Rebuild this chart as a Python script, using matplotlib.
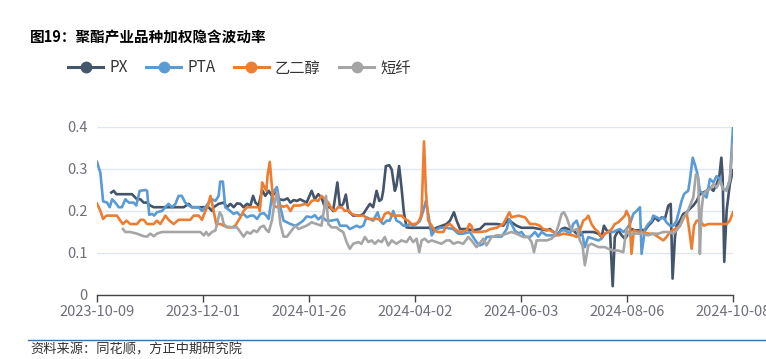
import matplotlib
matplotlib.use("Agg")
import matplotlib.pyplot as plt
from matplotlib.lines import Line2D

plt.rcParams['font.family'] = ['Noto Sans CJK SC', 'DejaVu Sans']

title = "图19：聚酯产业品种加权隐含波动率"
source = "资料来源：同花顺，方正中期研究院"
series_names = ["PX", "PTA", "乙二醇", "短纤"]
tick_labels = ["2023-10-09", "2023-12-01", "2024-01-26", "2024-04-02",
               "2024-06-03", "2024-08-06", "2024-10-08"]
tick_pos = [0, 40, 80, 120, 160, 200, 240]
yticks = [0, 0.1, 0.2, 0.3, 0.4]

# trading-day index (category position) and value for each series
px_x = [5.4, 6.3, 7.3, 10.7, 13.2, 15.1, 16.4, 17.6, 18.9, 20.1, 21.4, 25.2, 32.7, 34.6, 35.8, 39, 42.1, 43.4, 44,
        45.9, 47.8, 49.1, 50.3, 51.6, 52.8, 54.1, 55.3, 56.6, 57.9, 58.9, 59.8, 61, 62.3, 63.5, 64.8, 66, 67.3, 68.6,
        70.4, 71.9, 73, 74.2, 75.5, 76.6, 79.1, 81, 82.2, 83.5, 84.7, 86, 87.9, 89.1, 90.7, 91.7, 92.9, 93.9, 94.8,
        96.7, 99.2, 100.5, 101.7, 103, 104.2, 105.5, 106.5, 107.4, 108, 109, 110.3, 111.2, 112.4, 113, 114, 114.9,
        115.8, 116.8, 118.1, 120.6, 123.1, 125.6, 126.3, 128.1, 131.9, 133.2, 134.7, 135.7, 137, 139.5, 142, 144.5,
        146.4, 148.3, 150.8, 152, 153.3, 155.2, 156.5, 158.3, 160.2, 162.1, 164.6, 167.1, 169.7, 170.9, 172.2, 174.1,
        175.3, 176.6, 177.8, 179.7, 181, 182.2, 183.5, 185.4, 187.3, 189.2, 190.4, 191.3, 192.3, 193.6, 194.6, 195.4,
        196.7, 198, 199.2, 200.5, 201.7, 203, 204.3, 205.5, 206.8, 208, 209.3, 210.5, 211.8, 213.1, 214.3, 215.6,
        216.5, 217.2, 218.1, 218.7, 220, 221.2, 222.5, 223.7, 225, 226.3, 227.5, 228.8, 230, 231.3, 232.6, 233.8,
        234.8, 235.6, 236.1, 236.7, 237.6, 238.8, 240]
px_v = [0.244, 0.248, 0.24, 0.24, 0.24, 0.228, 0.228, 0.22, 0.22, 0.213, 0.209, 0.209, 0.209, 0.217, 0.209, 0.209,
        0.209, 0.2, 0.209, 0.217, 0.22, 0.209, 0.217, 0.209, 0.218, 0.217, 0.209, 0.217, 0.213, 0.236, 0.22, 0.213,
        0.25, 0.236, 0.248, 0.236, 0.244, 0.228, 0.226, 0.23, 0.22, 0.226, 0.224, 0.228, 0.22, 0.248, 0.228, 0.24,
        0.232, 0.209, 0.209, 0.2, 0.268, 0.209, 0.217, 0.239, 0.2, 0.189, 0.189, 0.193, 0.205, 0.217, 0.209, 0.248,
        0.224, 0.228, 0.248, 0.307, 0.309, 0.299, 0.248, 0.26, 0.307, 0.256, 0.197, 0.161, 0.16, 0.16, 0.16, 0.16,
        0.154, 0.16, 0.169, 0.177, 0.197, 0.177, 0.157, 0.157, 0.154, 0.157, 0.169, 0.169, 0.169, 0.168, 0.165, 0.181,
        0.173, 0.165, 0.16, 0.16, 0.16, 0.157, 0.154, 0.157, 0.15, 0.146, 0.157, 0.16, 0.157, 0.154, 0.146, 0.142,
        0.15, 0.15, 0.15, 0.146, 0.138, 0.165, 0.154, 0.15, 0.021, 0.138, 0.154, 0.142, 0.134, 0.146, 0.157, 0.154,
        0.154, 0.155, 0.154, 0.165, 0.173, 0.185, 0.177, 0.185, 0.181, 0.213, 0.217, 0.039, 0.138, 0.165, 0.177,
        0.193, 0.197, 0.205, 0.213, 0.224, 0.24, 0.244, 0.248, 0.256, 0.248, 0.264, 0.28, 0.327, 0.28, 0.079, 0.201,
        0.264, 0.297]

pta_x = [0, 1.3, 2.3, 3.8, 4.8, 5.7, 6.9, 8.2, 9.4, 10.7, 12, 13.8, 14.8, 16.1, 18.2, 18.9, 19.7, 20.8, 21.6, 22.6,
         24.5, 25.8, 27, 28.3, 29.6, 30.8, 32, 33.3, 34.6, 35.8, 38.4, 39.6, 40.9, 42.1, 43.4, 44.7, 45.9, 46.5, 47.5,
         48.4, 50.3, 51.6, 52.8, 54.1, 55.3, 56.6, 57.9, 59.1, 60.4, 61.6, 62.9, 63.9, 64.8, 66, 66.9, 67.9, 69.2,
         70.4, 71.7, 73, 74.8, 76.1, 77.8, 79.1, 81, 82.2, 83.5, 84.7, 86.6, 88.5, 90.7, 91.7, 94.2, 95.4, 96.7, 98,
         99.2, 100.5, 101.7, 103, 104.2, 105.9, 106.8, 108, 109.3, 110.5, 111.8, 113, 114.3, 115.6, 116.8, 118.1,
         119.3, 120.6, 121.9, 123.1, 124.1, 125, 126.3, 127.5, 129.4, 131.9, 134.4, 136.3, 138.2, 140.7, 143.2, 144.5,
         145.8, 147, 148.9, 150.8, 152.7, 154.6, 155.6, 156.4, 157.7, 159, 160.2, 161.5, 163.4, 165.3, 166.5, 167.8,
         169.7, 171.5, 173.4, 175.3, 176.6, 178.5, 179.7, 181, 182.2, 183.2, 184.1, 185.4, 187.3, 189.2, 190.4, 191.7,
         192.9, 194.8, 196.1, 197.3, 198.6, 199.8, 201.1, 202.4, 203.6, 204.9, 205.5, 206.8, 208, 209.3, 209.9, 211.2,
         212.4, 213.7, 214.9, 216.2, 217.5, 218.7, 220, 220.6, 221.5, 222.2, 223.1, 223.7, 224.8, 225.6, 226.5, 227.5,
         228.8, 230, 231.3, 232.6, 233.8, 235.1, 236.3, 237.6, 238.8, 240]
pta_v = [0.317, 0.29, 0.223, 0.22, 0.209, 0.228, 0.22, 0.209, 0.209, 0.228, 0.22, 0.22, 0.213, 0.248, 0.25, 0.248,
         0.191, 0.193, 0.189, 0.197, 0.2, 0.209, 0.217, 0.209, 0.217, 0.236, 0.236, 0.22, 0.213, 0.209, 0.209, 0.2,
         0.209, 0.22, 0.228, 0.224, 0.236, 0.27, 0.27, 0.209, 0.2, 0.193, 0.197, 0.189, 0.193, 0.185, 0.189, 0.189,
         0.181, 0.193, 0.195, 0.189, 0.181, 0.236, 0.248, 0.257, 0.209, 0.177, 0.173, 0.169, 0.165, 0.169, 0.177,
         0.187, 0.185, 0.19, 0.18, 0.187, 0.177, 0.177, 0.18, 0.165, 0.165, 0.157, 0.161, 0.165, 0.161, 0.165, 0.185,
         0.181, 0.177, 0.197, 0.177, 0.169, 0.177, 0.177, 0.2, 0.177, 0.173, 0.165, 0.165, 0.169, 0.165, 0.169, 0.177,
         0.2, 0.224, 0.193, 0.142, 0.154, 0.16, 0.16, 0.157, 0.146, 0.146, 0.15, 0.126, 0.118, 0.122, 0.138, 0.139,
         0.139, 0.139, 0.157, 0.181, 0.169, 0.153, 0.147, 0.15, 0.139, 0.138, 0.15, 0.139, 0.15, 0.142, 0.142, 0.142,
         0.154, 0.154, 0.146, 0.169, 0.177, 0.154, 0.142, 0.114, 0.138, 0.134, 0.13, 0.134, 0.146, 0.15, 0.15, 0.154,
         0.157, 0.15, 0.157, 0.169, 0.193, 0.2, 0.209, 0.098, 0.157, 0.169, 0.177, 0.189, 0.185, 0.181, 0.185, 0.173,
         0.165, 0.165, 0.177, 0.209, 0.224, 0.24, 0.244, 0.248, 0.272, 0.327, 0.311, 0.291, 0.248, 0.24, 0.232, 0.276,
         0.268, 0.283, 0.276, 0.252, 0.252, 0.272, 0.4]

meg_x = [0, 1.3, 2.3, 3.5, 5.7, 7.5, 8.8, 9.8, 11.1, 12.6, 15.1, 16.4, 17.6, 18.9, 21.4, 22.6, 23.9, 25.8, 27, 28.9,
         30.8, 35.2, 36.5, 38.4, 39.6, 40.9, 41.9, 42.8, 43.4, 44, 45, 46.5, 47.8, 49.1, 51, 52.2, 54.1, 55.3, 56.6,
         59.1, 61, 61.4, 61.9, 62.3, 62.9, 63.9, 64.4, 65.2, 65.8, 66.7, 67.9, 69.2, 70.4, 71.7, 73, 74.2, 75.5, 76.6,
         78.5, 79.7, 81, 82.2, 83.5, 84.7, 86, 87.3, 88.5, 89.8, 91, 92.3, 93.5, 94.8, 96.1, 98, 100.5, 102.4, 106.1,
         107.4, 108.6, 109.9, 111.2, 114.9, 116.2, 117.4, 118.7, 120, 121.2, 122.1, 122.5, 123.4, 124.1, 125, 126.3,
         127.5, 128.8, 130.7, 131.9, 133.2, 134.4, 135.7, 137, 139.5, 140.5, 141.3, 142, 144.5, 147, 148.3, 150.8,
         153.3, 154.6, 155.6, 156.4, 159, 161.5, 163.4, 165.3, 167.1, 168.4, 170.9, 172.2, 174.1, 176, 179.7, 181,
         182.2, 183.5, 184.5, 185.4, 186.6, 187.9, 189.2, 190.4, 191.7, 192.9, 194.2, 195.4, 196.7, 198, 199.2, 199.8,
         200.9, 201.7, 202.6, 204.3, 206.1, 208, 209.9, 211.8, 213.7, 214.9, 216.2, 218.1, 220, 221.2, 222.5, 223.5,
         224.4, 225.3, 226.3, 227.5, 229, 230.7, 237.6, 238.8, 240]
meg_v = [0.218, 0.2, 0.181, 0.189, 0.189, 0.189, 0.177, 0.169, 0.177, 0.169, 0.169, 0.179, 0.179, 0.169, 0.169, 0.177,
         0.169, 0.189, 0.179, 0.169, 0.179, 0.179, 0.189, 0.189, 0.179, 0.2, 0.213, 0.236, 0.22, 0.2, 0.169, 0.169,
         0.165, 0.161, 0.161, 0.165, 0.185, 0.2, 0.209, 0.209, 0.209, 0.2, 0.232, 0.268, 0.26, 0.248, 0.287, 0.317,
         0.272, 0.213, 0.209, 0.213, 0.21, 0.213, 0.2, 0.213, 0.213, 0.213, 0.217, 0.213, 0.224, 0.226, 0.224, 0.236,
         0.228, 0.22, 0.205, 0.2, 0.209, 0.209, 0.2, 0.202, 0.193, 0.189, 0.189, 0.181, 0.181, 0.177, 0.193, 0.197,
         0.189, 0.189, 0.181, 0.177, 0.169, 0.169, 0.173, 0.185, 0.2, 0.366, 0.248, 0.177, 0.165, 0.152, 0.15, 0.15,
         0.165, 0.169, 0.161, 0.154, 0.15, 0.154, 0.169, 0.165, 0.15, 0.15, 0.152, 0.157, 0.16, 0.169, 0.185, 0.197,
         0.185, 0.189, 0.185, 0.169, 0.169, 0.165, 0.157, 0.154, 0.15, 0.142, 0.146, 0.142, 0.138, 0.154, 0.177, 0.181,
         0.189, 0.169, 0.157, 0.15, 0.138, 0.146, 0.15, 0.157, 0.169, 0.173, 0.181, 0.189, 0.2, 0.185, 0.098, 0.154,
         0.15, 0.15, 0.146, 0.146, 0.138, 0.13, 0.138, 0.15, 0.157, 0.165, 0.181, 0.197, 0.154, 0.11, 0.165, 0.177,
         0.177, 0.165, 0.169, 0.169, 0.177, 0.197]

psf_x = [9.8, 10.7, 12.6, 15.1, 17.6, 18.9, 20.1, 21.4, 22.6, 24.5, 30.2, 35.2, 39, 40.3, 41.2, 42.1, 43.4, 44.7,
         45.3, 46.3, 47.1, 47.8, 48.8, 51, 52.8, 54.1, 55.3, 56.6, 57.9, 59.1, 60.4, 61.6, 62.9, 63.9, 64.8, 66, 66.9,
         67.9, 69.2, 70.4, 71.7, 73, 74.8, 76.1, 77.5, 79.1, 81, 82.9, 84.7, 85.6, 86.4, 87.3, 88.5, 90.4, 91.7, 92.9,
         94.2, 95.4, 96.7, 98.6, 99.8, 101.1, 102.4, 103.6, 104.9, 106.1, 107.4, 108.6, 109.9, 111.2, 113, 114.9,
         116.8, 118.1, 119.3, 120.6, 121.6, 122.5, 123.7, 125, 126.3, 128.1, 130, 131.9, 133.2, 134.4, 136.3, 138.2,
         140.1, 141.3, 143.2, 145.8, 147, 148.9, 150.8, 152.7, 154.6, 156.4, 158.3, 159.6, 160.9, 162.7, 164, 164.9,
         165.9, 167.8, 169.7, 171.5, 172.8, 174.1, 175.3, 176.2, 177.2, 178.5, 179.7, 181.2, 182.2, 183.2, 184.1,
         185.4, 186.6, 187.9, 189.2, 191.7, 192.9, 194.8, 196.7, 198.6, 199.8, 200.9, 202.4, 206.1, 208, 209.9, 211.8,
         213.7, 215.6, 217.5, 218.7, 220, 221.2, 222.5, 223.5, 225, 226, 226.9, 227.5, 228.1, 228.8, 230, 231.3,
         232.6, 233.8, 235.1, 236.3, 237.6, 238.8, 240]
psf_v = [0.157, 0.15, 0.15, 0.146, 0.14, 0.139, 0.146, 0.14, 0.146, 0.15, 0.15, 0.15, 0.15, 0.142, 0.15, 0.142, 0.15,
         0.154, 0.169, 0.197, 0.189, 0.169, 0.163, 0.161, 0.161, 0.15, 0.139, 0.15, 0.146, 0.154, 0.15, 0.161, 0.165,
         0.155, 0.15, 0.177, 0.217, 0.244, 0.169, 0.139, 0.139, 0.15, 0.165, 0.157, 0.161, 0.165, 0.173, 0.169, 0.165,
         0.2, 0.236, 0.169, 0.161, 0.161, 0.154, 0.15, 0.126, 0.11, 0.122, 0.126, 0.122, 0.138, 0.126, 0.13, 0.122,
         0.13, 0.126, 0.138, 0.118, 0.13, 0.122, 0.13, 0.126, 0.138, 0.126, 0.134, 0.102, 0.13, 0.134, 0.126, 0.13,
         0.126, 0.122, 0.13, 0.13, 0.122, 0.126, 0.122, 0.138, 0.13, 0.114, 0.134, 0.118, 0.138, 0.142, 0.142, 0.146,
         0.15, 0.146, 0.142, 0.138, 0.138, 0.126, 0.102, 0.13, 0.13, 0.13, 0.134, 0.142, 0.165, 0.193, 0.197, 0.185,
         0.161, 0.154, 0.157, 0.13, 0.118, 0.071, 0.118, 0.122, 0.118, 0.114, 0.114, 0.11, 0.106, 0.106, 0.102, 0.157,
         0.142, 0.146, 0.146, 0.142, 0.146, 0.146, 0.15, 0.15, 0.146, 0.154, 0.165, 0.185, 0.193, 0.209, 0.232, 0.287,
         0.28, 0.098, 0.2, 0.24, 0.248, 0.252, 0.264, 0.256, 0.272, 0.252, 0.248, 0.276, 0.358]

colors = ["#44546A", "#5B9BD5", "#ED7D31", "#A5A5A5"]
axis_grey = "#6E7079"

fig = plt.figure(figsize=(7.66, 3.59), dpi=100)
ax = fig.add_axes([97/766, 1-295/359, (733-97)/766, (295-127)/359])

data = [(px_x, px_v), (pta_x, pta_v), (meg_x, meg_v), (psf_x, psf_v)]
handles = []
for (xs, vs), name, c in zip(data, series_names, colors):
    ax.plot(xs, vs, color=c, lw=1.9, solid_joinstyle='round', zorder=3)
    handles.append(Line2D([0], [0], color=c, lw=2.2, marker='o', markersize=7.5,
                          markerfacecolor=c, markeredgecolor=c, label=name))

ax.set_xlim(0, 240)
ax.set_ylim(0, 0.4)
ax.set_yticks(yticks)
ax.set_yticklabels(["0", "0.1", "0.2", "0.3", "0.4"])
ax.set_xticks(tick_pos)
ax.set_xticklabels(tick_labels)
for sp in ["top", "right", "left"]:
    ax.spines[sp].set_visible(False)
ax.spines["bottom"].set_color("#444444")
ax.spines["bottom"].set_linewidth(1.0)
ax.grid(axis='y', color="#E0E6F1", lw=1.0, zorder=0)
ax.tick_params(axis='y', length=0, pad=7, labelsize=10.5, labelcolor=axis_grey)
ax.tick_params(axis='x', length=5, width=1, color="#444444", pad=2, labelsize=10.5, labelcolor=axis_grey)
for lbl in ax.get_xticklabels():
    lbl.set_clip_on(False)

fig.text(30/766, 1-38/359, title, fontsize=10.5, fontweight='bold', color='black', va='center', ha='left')

leg = fig.legend(handles=handles, loc='center left', bbox_to_anchor=(68/766, 1-68/359),
                 ncol=4, frameon=False, fontsize=11, handlelength=2.3, handletextpad=0.4,
                 columnspacing=1.2, borderaxespad=0, borderpad=0)
for t in leg.get_texts():
    t.set_color("#333333")

fig.add_artist(Line2D([28/766, 1.0], [1-340/359, 1-340/359], color="#3A70A8", lw=1.0))
fig.text(30/766, 1-350/359, source, fontsize=9.5, color="#333333", va='center', ha='left', style='italic')

fig.savefig("out.png", dpi=100)
